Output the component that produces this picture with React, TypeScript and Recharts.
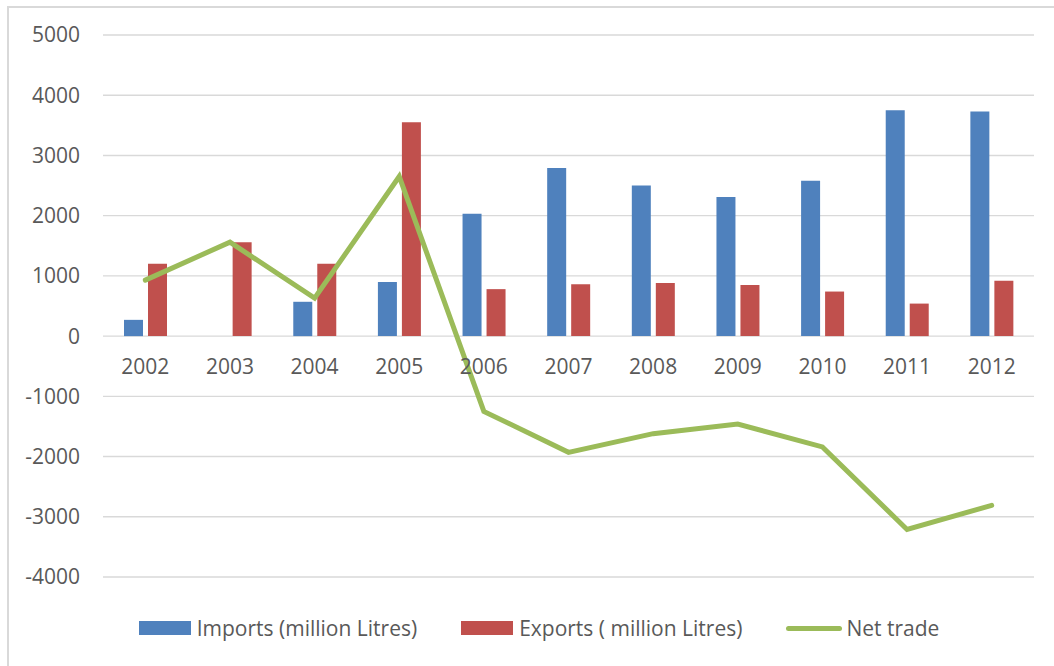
import {
  ComposedChart,
  Bar,
  Line,
  XAxis,
  YAxis,
  CartesianGrid,
  LabelList,
} from "recharts";

const years = ["2002", "2003", "2004", "2005", "2006", "2007", "2008", "2009", "2010", "2011", "2012"];
const imports = [270, 0, 570, 900, 2030, 2790, 2500, 2310, 2580, 3750, 3730];
const exportsL = [1200, 1560, 1200, 3550, 780, 860, 880, 850, 740, 540, 920];
const netTrade = [930, 1560, 630, 2650, -1250, -1930, -1620, -1460, -1840, -3210, -2810];
const yTicks = [-4000, -3000, -2000, -1000, 0, 1000, 2000, 3000, 4000, 5000];

const series = [
  { key: "imports", name: "Imports (million Litres)", color: "#4f81bd", kind: "rect" },
  { key: "exports", name: "Exports ( million Litres)", color: "#c0504d", kind: "rect" },
  { key: "net", name: "Net trade", color: "#9bbb59", kind: "line" },
];

const data = years.map((year, i) => ({
  year,
  imports: imports[i] || null,
  exports: exportsL[i],
  net: netTrade[i],
  axis: 0,
}));

const FONT = "'Open Sans', sans-serif";
const TEXT = "#595959";

function YearLabel(props: any) {
  const { x, y, value } = props;
  return (
    <text
      x={x}
      y={y + 30}
      textAnchor="middle"
      dominantBaseline="central"
      fontSize={21}
      fontFamily={FONT}
      fill={TEXT}
    >
      {value}
    </text>
  );
}

function ChartLegend() {
  return (
    <div
      style={{
        position: "absolute",
        top: 614,
        left: 0,
        width: 1054,
        display: "flex",
        justifyContent: "center",
        alignItems: "center",
        fontFamily: FONT,
        fontSize: 21,
        color: TEXT,
        paddingLeft: 24,
        boxSizing: "border-box",
      }}
    >
      {series.map((s, i) => (
        <div
          key={s.key}
          style={{ display: "flex", alignItems: "center", marginLeft: i === 0 ? 0 : 44 }}
        >
          {s.kind === "line" ? (
            <div style={{ width: 56, height: 5, borderRadius: 3, background: s.color, marginRight: 4 }} />
          ) : (
            <div style={{ width: 52, height: 14, background: s.color, marginRight: 6 }} />
          )}
          <span>{s.name}</span>
        </div>
      ))}
    </div>
  );
}

export default function App() {
  return (
    <div
      style={{
        position: "absolute",
        left: 0,
        top: 0,
        width: 1054,
        height: 666,
        background: "#fff",
      }}
    >
      <div
        style={{
          position: "absolute",
          left: 7,
          top: 6,
          right: 0,
          bottom: 0,
          borderLeft: "2px solid #d9d9d9",
          borderTop: "2px solid #d9d9d9",
        }}
      />
      <ComposedChart
        width={1054}
        height={666}
        data={data}
        margin={{ top: 35, right: 20, bottom: 89, left: 0 }}
        barSize={19}
        barGap={5}
        style={{ position: "absolute", left: 0, top: 0 }}
      >
        <CartesianGrid vertical={false} stroke="#d9d9d9" strokeWidth={1.4} />
        <XAxis dataKey="year" hide />
        <YAxis
          width={103}
          domain={[-4000, 5000]}
          ticks={yTicks}
          interval={0}
          axisLine={false}
          tickLine={false}
          tickSize={0}
          tickMargin={23}
          tick={{ fontSize: 21, fontFamily: FONT, fill: TEXT }}
        />
        <Bar dataKey="imports" name={series[0].name} fill={series[0].color} isAnimationActive={false} />
        <Bar dataKey="exports" name={series[1].name} fill={series[1].color} isAnimationActive={false} />
        <Line
          dataKey="axis"
          stroke="none"
          dot={false}
          activeDot={false}
          isAnimationActive={false}
        >
          <LabelList dataKey="year" content={YearLabel} />
        </Line>
        <Line
          dataKey="net"
          name={series[2].name}
          stroke={series[2].color}
          strokeWidth={5}
          strokeLinecap="round"
          dot={false}
          activeDot={false}
          type="linear"
          isAnimationActive={false}
        />
      </ComposedChart>
      <ChartLegend />
    </div>
  );
}
